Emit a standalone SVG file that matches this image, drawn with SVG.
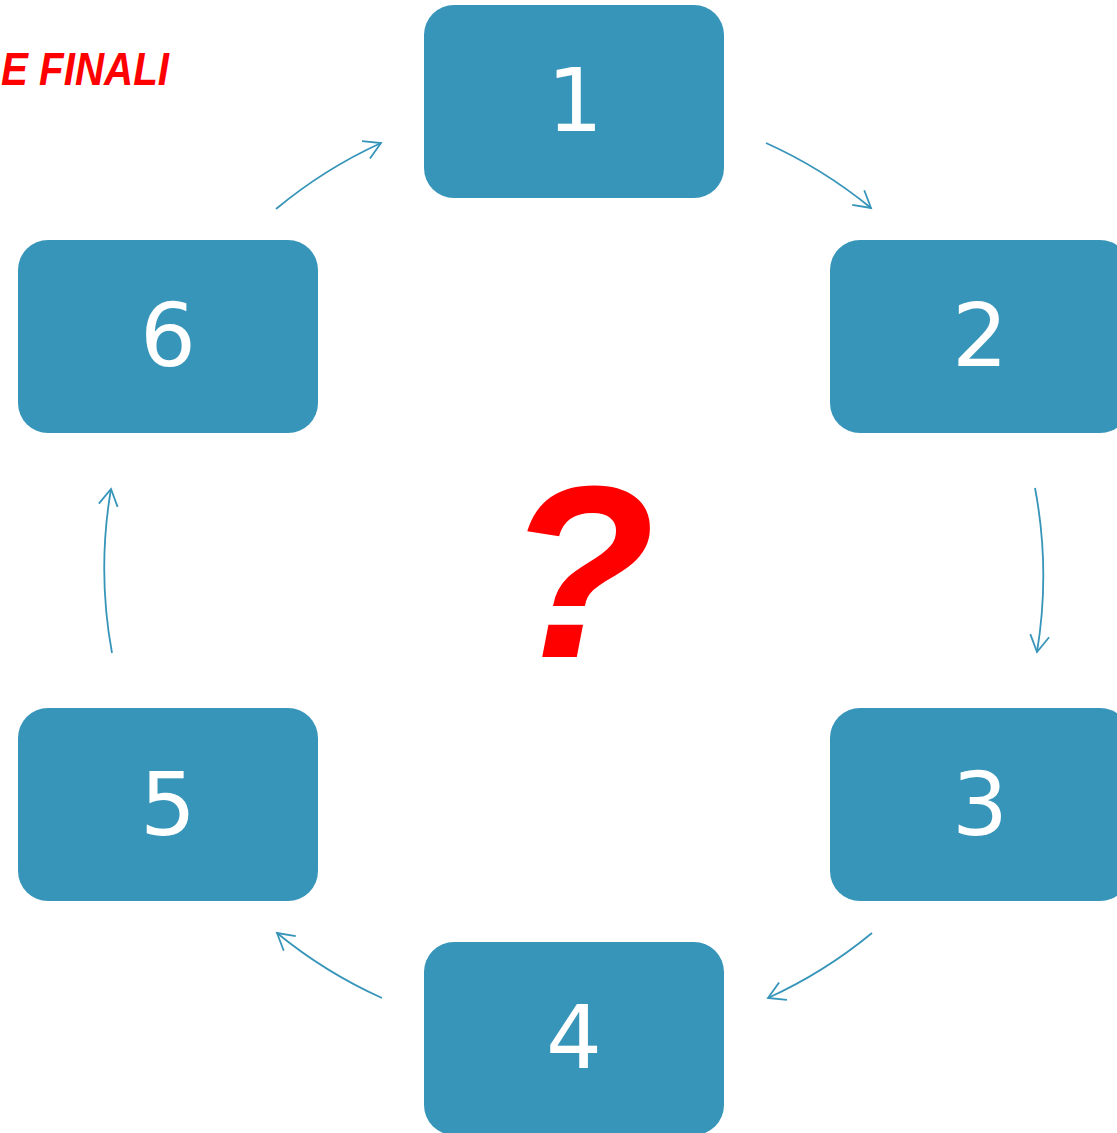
<svg xmlns="http://www.w3.org/2000/svg" width="1117" height="1133" viewBox="0 0 1117 1133">
<style>
.node rect{fill:#3795BA;}
.node text{fill:#FFFFFF;font-family:"DejaVu Sans",sans-serif;font-size:88px;text-anchor:middle;}
.conn path{fill:none;stroke:#3795BA;stroke-width:1.8;}
.red{fill:#FF0000;font-family:"Liberation Sans",Arial,sans-serif;font-weight:700;font-style:italic;}
</style>
<defs>
<marker id="ah" markerUnits="userSpaceOnUse" markerWidth="40" markerHeight="40" viewBox="-20 -20 40 40" refX="0" refY="0" orient="auto">
<path d="M-16.5,-9.5 L0,0 L-16.5,9.5" fill="none" stroke="#3795BA" stroke-width="1.8"/>
</marker>
</defs>
<rect width="1117" height="1133" fill="#FFFFFF"/>
<text class="red" x="1" y="85" font-size="46" textLength="168" lengthAdjust="spacingAndGlyphs">E FINALI</text>
<g class="conn">
<path d="M766,143 A469,469 0 0 1 871,208" marker-end="url(#ah)"/>
<path d="M1035,488 A469,469 0 0 1 1037,652" marker-end="url(#ah)"/>
<path d="M872,933 A469,469 0 0 1 768,998" marker-end="url(#ah)"/>
<path d="M382,998 A469,469 0 0 1 277,933" marker-end="url(#ah)"/>
<path d="M112,653 A469,469 0 0 1 111,489" marker-end="url(#ah)"/>
<path d="M276,209 A469,469 0 0 1 381,143" marker-end="url(#ah)"/>
</g>
<g id="node1" class="node"><rect x="424" y="5" width="300" height="193" rx="30"/><text x="575" y="131">1</text></g>
<g id="node2" class="node"><rect x="830" y="240" width="300" height="193" rx="30"/><text x="980" y="366">2</text></g>
<g id="node3" class="node"><rect x="830" y="708" width="300" height="193" rx="30"/><text x="980" y="835">3</text></g>
<g id="node4" class="node"><rect x="424" y="942" width="300" height="193" rx="30"/><text x="574" y="1068">4</text></g>
<g id="node5" class="node"><rect x="18" y="708" width="300" height="193" rx="30"/><text x="168" y="835">5</text></g>
<g id="node6" class="node"><rect x="18" y="240" width="300" height="193" rx="30"/><text x="168" y="366">6</text></g>
<text class="red" x="580" y="657" font-size="245" text-anchor="middle">?</text>
</svg>
